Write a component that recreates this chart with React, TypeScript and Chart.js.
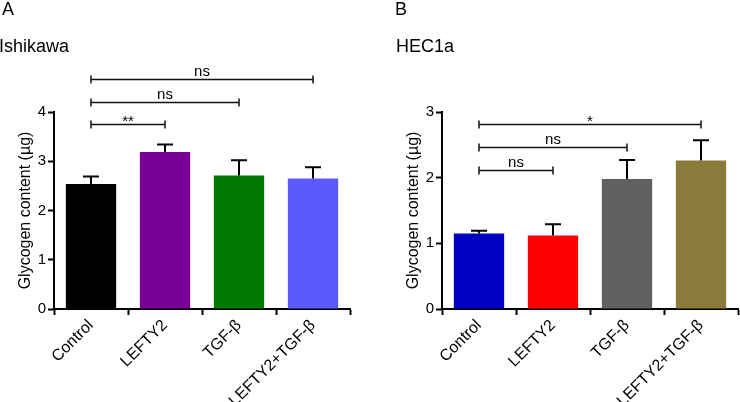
import React, { useEffect, useRef } from "react";
import { Chart, registerables } from "chart.js";

Chart.register(...registerables);

const categories = ["Control", "LEFTY2", "TGF-β", "LEFTY2+TGF-β"];

// Panel A – Ishikawa
const valuesA = [2.54, 3.19, 2.71, 2.65];
const errorsA = [0.15, 0.15, 0.31, 0.23];
const colorsA = ["#000000", "#780094", "#007800", "#5a5aff"];
const yTicksA = [0, 1, 2, 3, 4];
const bracketFromA = [0, 0, 0];
const bracketToA = [1, 2, 3];
const bracketLevelA = [3.76, 4.21, 4.67];
const bracketLabelA = ["**", "ns", "ns"];

// Panel B – HEC1a
const valuesB = [1.15, 1.12, 1.98, 2.26];
const errorsB = [0.04, 0.17, 0.29, 0.31];
const colorsB = ["#0000c0", "#ff0000", "#606060", "#8b7b3b"];
const yTicksB = [0, 1, 2, 3];
const bracketFromB = [0, 0, 0];
const bracketToB = [1, 2, 3];
const bracketLevelB = [2.117, 2.467, 2.817];
const bracketLabelB = ["ns", "ns", "*"];

const FONT = "'Liberation Sans', Arial, Helvetica, sans-serif";

type PanelProps = {
  letter: string;
  title: string;
  values: number[];
  errors: number[];
  colors: string[];
  yTicks: number[];
  bFrom: number[];
  bTo: number[];
  bLevel: number[];
  bLabel: string[];
  padLeft: number;
  padRight: number;
  letterX: number;
  titleX: number;
};

function Panel(p: PanelProps) {
  const ref = useRef<HTMLCanvasElement | null>(null);
  useEffect(() => {
    if (!ref.current) return;
    const overlay = {
      id: "overlay",
      afterDatasetsDraw(chart: any) {
        const ctx = chart.ctx;
        const y = chart.scales.y;
        const meta = chart.getDatasetMeta(0);
        ctx.save();
        // error bars
        ctx.strokeStyle = "#000";
        ctx.lineWidth = 2;
        p.values.forEach((v, i) => {
          const x = meta.data[i].x;
          const y0 = y.getPixelForValue(v);
          const y1 = y.getPixelForValue(v + p.errors[i]);
          ctx.beginPath();
          ctx.moveTo(x, y0);
          ctx.lineTo(x, y1);
          ctx.moveTo(x - 8, y1);
          ctx.lineTo(x + 8, y1);
          ctx.stroke();
        });
        // brackets
        ctx.lineWidth = 1.5;
        ctx.strokeStyle = "#111";
        ctx.fillStyle = "#000";
        ctx.textAlign = "center";
        ctx.textBaseline = "alphabetic";
        p.bLevel.forEach((lvl, i) => {
          const xa = meta.data[p.bFrom[i]].x;
          const xb = meta.data[p.bTo[i]].x;
          const yy = Math.round(y.getPixelForValue(lvl)) + 0.5;
          ctx.beginPath();
          ctx.moveTo(xa, yy);
          ctx.lineTo(xb, yy);
          ctx.moveTo(xa, yy - 4);
          ctx.lineTo(xa, yy + 4);
          ctx.moveTo(xb, yy - 4);
          ctx.lineTo(xb, yy + 4);
          ctx.stroke();
          ctx.font = `15px ${FONT}`;
          const lab = p.bLabel[i];
          ctx.fillText(lab, (xa + xb) / 2, yy - (lab.startsWith("*") ? -1 : 4));
        });
        // panel letter and title
        ctx.textAlign = "left";
        ctx.font = `18px ${FONT}`;
        ctx.fillText(p.letter, p.letterX, 15);
        ctx.fillText(p.title, p.titleX, 52);
        ctx.restore();
      },
    };
    const chart = new Chart(ref.current, {
      type: "bar",
      data: {
        labels: categories,
        datasets: [
          {
            data: p.values,
            backgroundColor: p.colors,
            borderWidth: 0,
            barPercentage: 0.68,
            categoryPercentage: 1,
          },
        ],
      },
      options: {
        responsive: false,
        animation: false,
        devicePixelRatio: 1,
        layout: { padding: { left: p.padLeft, right: p.padRight, top: 112, bottom: 0 } },
        plugins: { legend: { display: false }, tooltip: { enabled: false }, title: { display: false } },
        scales: {
          x: {
            grid: { display: true, drawOnChartArea: false, drawTicks: true, tickLength: 6, tickColor: "#000", tickWidth: 2 },
            border: { display: true, color: "#000", width: 2 },
            ticks: { color: "#000", font: { size: 16, family: FONT }, minRotation: 45, maxRotation: 45, padding: 1, autoSkip: false },
            afterFit: (s: any) => {
              s.height = 93;
            },
          },
          y: {
            min: p.yTicks[0],
            max: p.yTicks[p.yTicks.length - 1],
            afterBuildTicks: (s: any) => {
              s.ticks = p.yTicks.map((v) => ({ value: v }));
            },
            grid: { display: true, drawOnChartArea: false, drawTicks: true, tickLength: 6, tickColor: "#000", tickWidth: 2 },
            border: { display: true, color: "#000", width: 2 },
            ticks: { color: "#000", font: { size: 15, family: FONT }, padding: 2 },
            title: {
              display: true,
              text: "Glycogen content (µg)",
              color: "#000",
              font: { size: 16, family: FONT },
              padding: { top: 16, bottom: 0 },
            },
            afterFit: (s: any) => {
              s.width = 54;
            },
          },
        },
      } as any,
      plugins: [overlay],
    });
    return () => chart.destroy();
  }, []);
  return <canvas ref={ref} width={370} height={402} style={{ display: "block", width: 370, height: 402 }} />;
}

export default function App() {
  return (
    <div style={{ position: "fixed", left: 0, top: 0, width: 740, height: 402, background: "#fff", display: "flex" }}>
      <Panel
        letter="A"
        title="Ishikawa"
        values={valuesA}
        errors={errorsA}
        colors={colorsA}
        yTicks={yTicksA}
        bFrom={bracketFromA}
        bTo={bracketToA}
        bLevel={bracketLevelA}
        bLabel={bracketLabelA}
        padLeft={0}
        padRight={20}
        letterX={2}
        titleX={-1}
      />
      <Panel
        letter="B"
        title="HEC1a"
        values={valuesB}
        errors={errorsB}
        colors={colorsB}
        yTicks={yTicksB}
        bFrom={bracketFromB}
        bTo={bracketToB}
        bLevel={bracketLevelB}
        bLabel={bracketLabelB}
        padLeft={18}
        padRight={2}
        letterX={25}
        titleX={26}
      />
    </div>
  );
}
